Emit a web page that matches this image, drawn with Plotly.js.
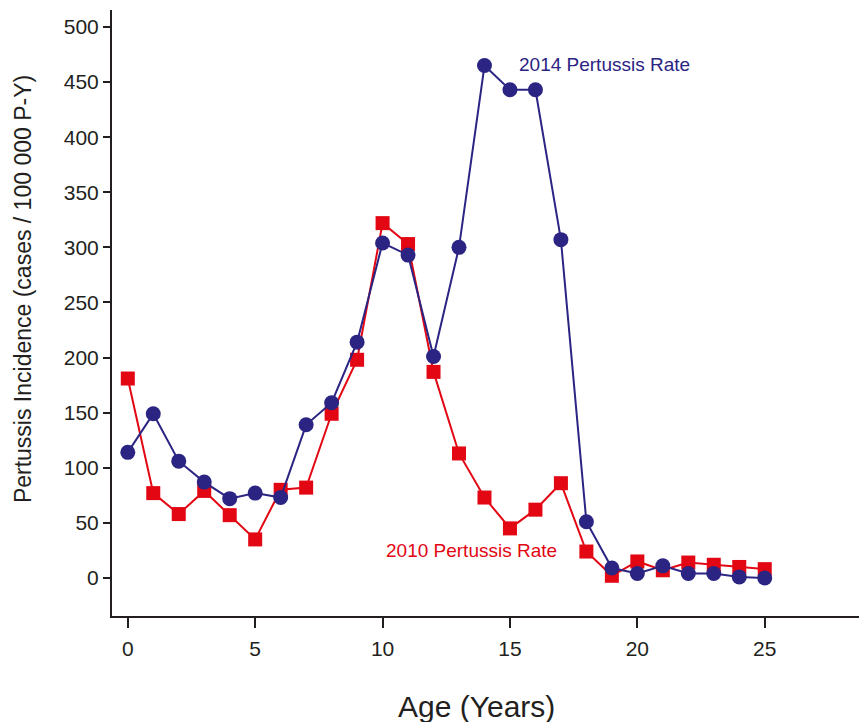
<!DOCTYPE html>
<html>
<head>
<meta charset="utf-8">
<script src="https://cdn.plot.ly/plotly-3.0.1.min.js"></script>
<style>html,body{margin:0;padding:0;background:#fff}#chart{width:859px;height:722px}</style>
</head>
<body>
<div id="chart"></div>
<script>
const ages = [0,1,2,3,4,5,6,7,8,9,10,11,12,13,14,15,16,17,18,19,20,21,22,23,24,25];
const rate2014 = [114,149,106,87,72,77,73,139,159,214,304,293,201,300,465,443,443,307,51,9,4,11,4,4,1,0];
const rate2010 = [181,77,58,79,57,35,80,82,149,198,322,303,187,113,73,45,62,86,24,2,15,7,14,12,10,8];
const label2014 = "2014 Pertussis Rate";
const label2010 = "2010 Pertussis Rate";
const xTitle = "Age (Years)";
const yTitle = "Pertussis Incidence (cases / 100 000 P-Y)";
const xTicks = [0,5,10,15,20,25];
const yTicks = [0,50,100,150,200,250,300,350,400,450,500];

const blue = "#2b2483";
const red = "#e30613";
const axisCol = "#231f20";
const font = "Liberation Sans, Arial, sans-serif";

const traces = [
  {x: ages, y: rate2010, type: "scatter", mode: "lines+markers", name: label2010,
   line: {color: red, width: 2}, marker: {symbol: "square", size: 14, color: red}},
  {x: ages, y: rate2014, type: "scatter", mode: "lines+markers", name: label2014,
   line: {color: blue, width: 2}, marker: {symbol: "circle", size: 15, color: blue}}
];

const layout = {
  width: 859, height: 722,
  margin: {l: 112, r: 0, t: 10, b: 106},
  paper_bgcolor: "#fff", plot_bgcolor: "#fff",
  showlegend: false,
  font: {family: font, color: axisCol},
  xaxis: {
    range: [-0.62, 28.7], tickvals: xTicks, ticktext: xTicks.map(String),
    showgrid: false, zeroline: false, showline: true, linecolor: axisCol, linewidth: 2,
    ticks: "outside", ticklen: 10, tickwidth: 2, tickcolor: axisCol,
    ticklabelstandoff: 3,
    tickfont: {size: 21, family: font, color: axisCol},
    automargin: false
  },
  yaxis: {
    range: [-34.5, 515.4], tickvals: yTicks, ticktext: yTicks.map(String),
    showgrid: false, zeroline: false, showline: true, linecolor: axisCol, linewidth: 2,
    ticks: "outside", ticklen: 7, tickwidth: 2, tickcolor: axisCol,
    tickfont: {size: 21, family: font, color: axisCol},
    automargin: false
  },
  annotations: [
    {x: 15.28, y: 465.5, xref: "x", yref: "y", text: label2014, showarrow: false,
     xanchor: "left", yanchor: "middle", font: {size: 19, family: font, color: blue}},
    {x: 10.06, y: 24.5, xref: "x", yref: "y", text: label2010, showarrow: false,
     xanchor: "left", yanchor: "middle", font: {size: 19, family: font, color: red}},
    {x: 0.4886, y: -0.150, xref: "paper", yref: "paper", text: xTitle, showarrow: false,
     xanchor: "center", yanchor: "middle", font: {size: 30, family: font, color: axisCol}},
    {x: -0.119, y: 0.5396, xref: "paper", yref: "paper", text: yTitle, showarrow: false,
     textangle: -90, xanchor: "center", yanchor: "middle", font: {size: 23, family: font, color: axisCol}}
  ]
};

Plotly.newPlot("chart", traces, layout, {displayModeBar: false, staticPlot: true});
</script>
</body>
</html>
